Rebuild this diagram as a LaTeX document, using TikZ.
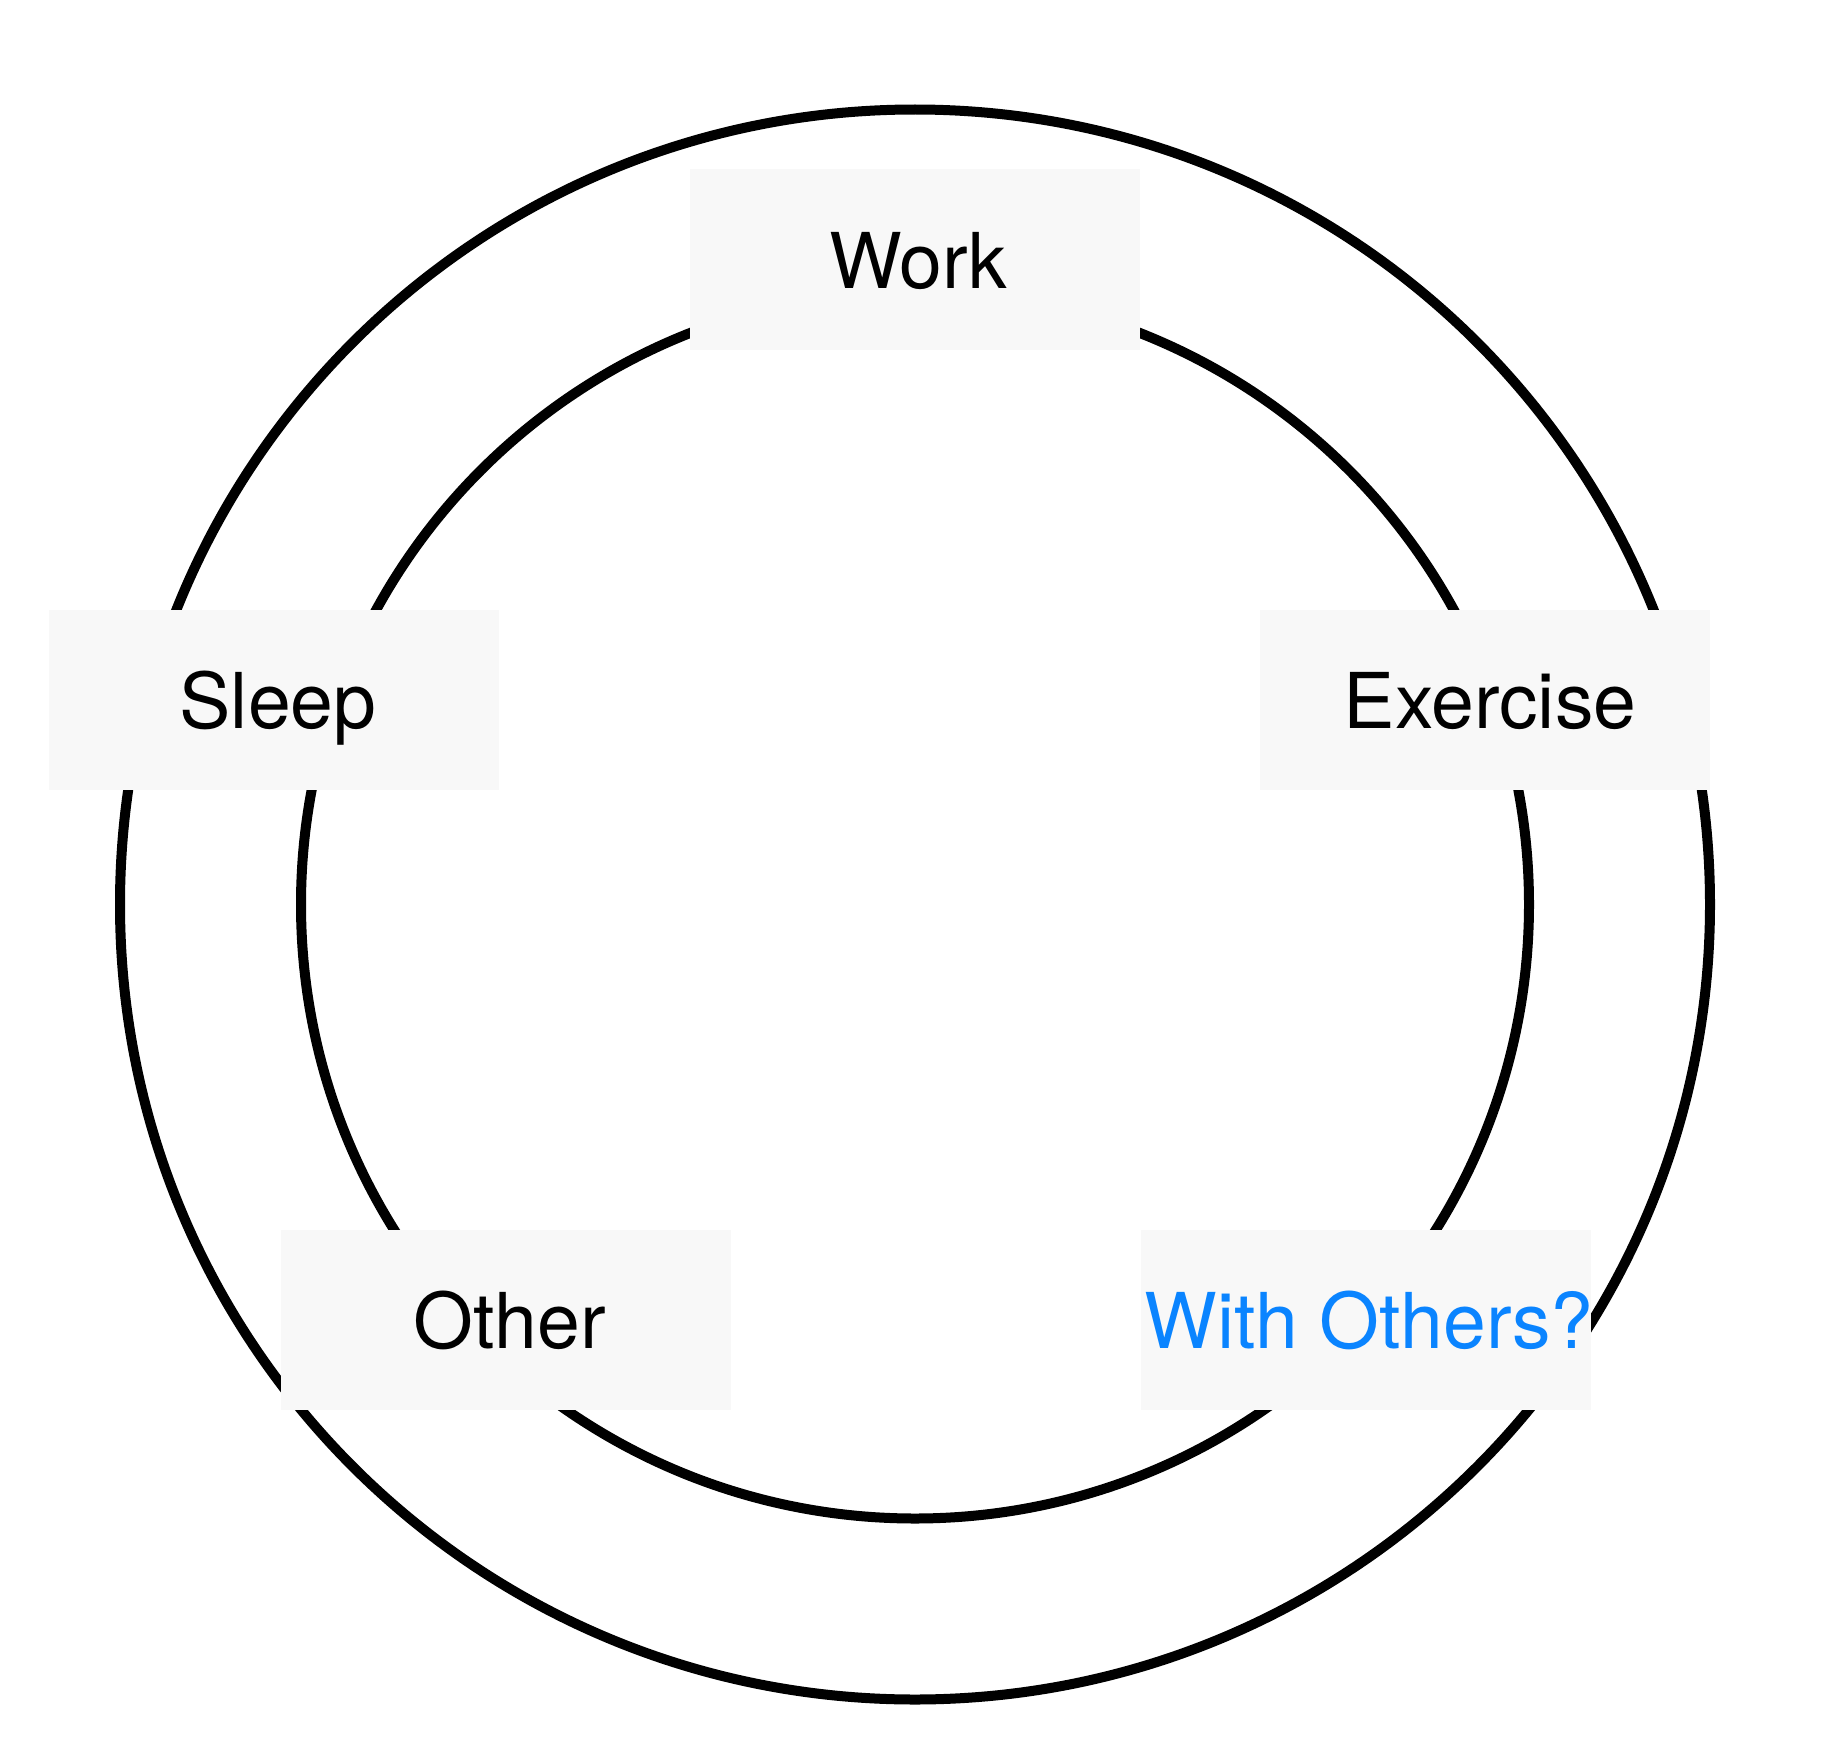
\documentclass[tikz,border=0pt]{standalone}
\usepackage{fontspec}
\setmainfont{TeX Gyre Heros}
\definecolor{boxfill}{HTML}{F8F8F8}
\definecolor{qblue}{RGB}{10,132,255}
\tikzset{
  ring/.style={draw=black, line width=10pt},
  labelbox/.style={fill=boxfill, draw=none, inner sep=0pt, minimum width=450pt, minimum height=180pt},
  lbl/.style={anchor=base, inner sep=0pt, font=\fontsize{77}{90}\selectfont},
}
\begin{document}
\begin{tikzpicture}[x=1pt, y=-1pt]
\useasboundingbox (0,0) rectangle (1840,1750);
\coordinate (c) at (915,904.5);
\draw[ring] (c) circle[radius=795];
\draw[ring] (c) circle[radius=614];
\node[labelbox] (work) at (915,259.5) {};
\node[labelbox] (sleep) at (274,699.5) {};
\node[labelbox] (exercise) at (1485,699.5) {};
\node[labelbox] (other) at (506,1320) {};
\node[labelbox] (withothers) at (1366,1320) {};
\node[lbl] (tw) at ([yshift=-28.5pt,xshift=3pt]work.center) {Work};
\node[lbl] (ts) at ([yshift=-28.5pt,xshift=4pt]sleep.center) {Sleep};
\node[lbl] (te) at ([yshift=-28.5pt,xshift=5pt]exercise.center) {Exercise};
\node[lbl] (to) at ([yshift=-28.5pt,xshift=4pt]other.center) {Other};
\node[lbl, text=qblue] (twi) at ([yshift=-28.5pt,xshift=3pt]withothers.center) {With Others?};
\end{tikzpicture}
\end{document}
